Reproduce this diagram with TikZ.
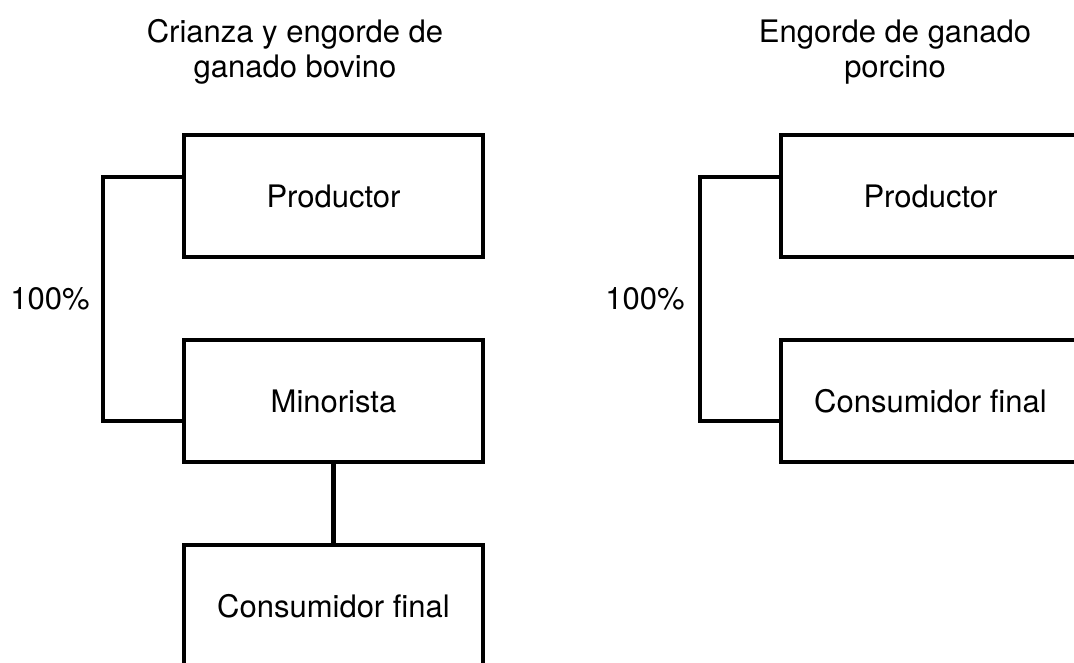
\documentclass[tikz,border=0pt]{standalone}
\usepackage{fontspec}
\setmainfont{TeX Gyre Heros}
\begin{document}
\begin{tikzpicture}[x=1pt,y=-1pt,
  every node/.style={font=\fontsize{31}{35}\selectfont},
  box/.style={draw, line width=4.3pt, minimum width=299pt, minimum height=122pt, outer sep=0pt, inner sep=0pt},
  link/.style={line width=4.3pt, line cap=rect},
  title/.style={align=center, inner sep=0pt},
  pct/.style={anchor=base, inner sep=0pt}]
\useasboundingbox (0,0) rectangle (1074,663);
\clip (0,0) rectangle (1074,663);
% left column
\node[title] (t1) at (295,52) {Crianza y engorde de\\ganado bovino};
\node[box] (p1) at (333.5,196) {Productor};
\node[box] (m1) at (333.5,401) {Minorista};
\node[box] (c1) at (333.5,606) {Consumidor final};
\node[pct] (q1) at (50,309) {100\%};
\draw[link] ([yshift=19pt]p1.west) -- ++(-81,0) |- ([yshift=-20pt]m1.west);
\draw[link] (m1.south) -- (c1.north);
% right column
\node[title] (t2) at (895,52) {Engorde de ganado\\porcino};
\node[box] (p2) at (930.5,196) {Productor};
\node[box] (c2) at (930.5,401) {Consumidor final};
\node[pct] (q2) at (645,309) {100\%};
\draw[link] ([yshift=19pt]p2.west) -- ++(-81,0) |- ([yshift=-20pt]c2.west);
\end{tikzpicture}
\end{document}
